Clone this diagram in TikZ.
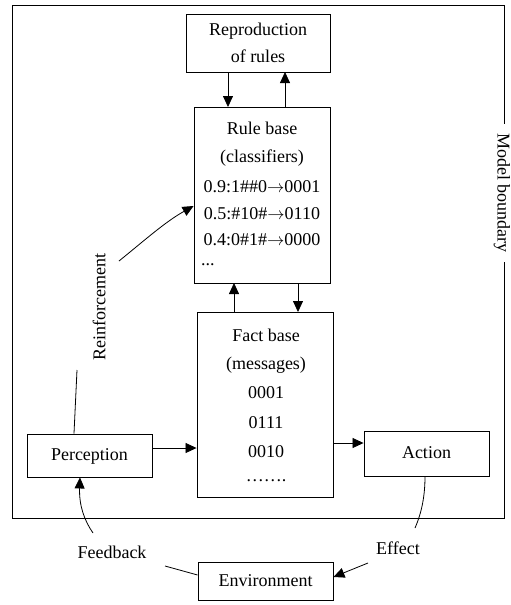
\documentclass[tikz,border=0pt]{standalone}
\usepackage{fontspec}
\setmainfont{Liberation Serif}
\usetikzlibrary{arrows.meta}
\begin{document}
\begin{tikzpicture}[x=1pt,y=-1pt,
  txt/.style={inner sep=0pt,font=\fontsize{18}{21}\selectfont},
  conn/.style={line width=0.8pt},
  arr/.style={line width=0.8pt,-{Triangle[length=11pt,width=10pt]}}]
\useasboundingbox (0,0) rectangle (511,605);
% model boundary
\node[draw,line width=0.9pt,minimum width=492pt,minimum height=513pt,inner sep=0pt] (boundary) at (258,261.5) {};
\node[txt,fill=white,rotate=-90,inner xsep=9pt,inner ysep=1pt] (mb) at (502,193) {Model boundary};
% boxes
\node[draw,line width=0.9pt,minimum width=144pt,minimum height=58pt,inner sep=0pt] (repro) at (258,43) {};
\node[draw,line width=0.9pt,minimum width=136pt,minimum height=176pt,inner sep=0pt] (rule) at (262,195) {};
\node[draw,line width=0.9pt,minimum width=136pt,minimum height=185pt,inner sep=0pt] (fact) at (265,404.5) {};
\node[draw,line width=0.9pt,minimum width=125pt,minimum height=43pt,inner sep=0pt] (perc) at (89.5,455.5) {};
\node[draw,line width=0.9pt,minimum width=125pt,minimum height=45pt,inner sep=0pt] (action) at (426.5,453.5) {};
\node[draw,line width=0.9pt,minimum width=135pt,minimum height=38pt,inner sep=0pt] (env) at (265.5,581) {};
% texts
\node[txt] (t1) at (258,31) {Reproduction};
\node[txt] (t2) at (258,56) {of rules};
\node[txt] (r1) at (262,128) {Rule base};
\node[txt] (r2) at (262,158) {(classifiers)};
\node[txt] (r3) at (262,187) {0.9:1\#\#0$\rightarrow$0001};
\node[txt] (r4) at (262,214) {0.5:\#10\#$\rightarrow$0110};
\node[txt] (r5) at (262,240) {0.4:0\#1\#$\rightarrow$0000};
\node[txt,anchor=west] (r6) at (201,265) {...};
\node[txt] (f1) at (266,335) {Fact base};
\node[txt] (f2) at (266,365) {(messages)};
\node[txt] (f3) at (266,393) {0001};
\node[txt] (f4) at (266,423) {0111};
\node[txt] (f5) at (266,452) {0010};
\node[txt] (f6) at (266,481) {…….};
\node[txt] (tp) at (89.5,456) {Perception};
\node[txt] (ta) at (426.5,453) {Action};
\node[txt] (te) at (265.5,581) {Environment};
\node[txt] (fb) at (112,552) {Feedback};
\node[txt] (ef) at (398,548) {Effect};
\node[txt,rotate=90] (re) at (99,307) {Reinforcement};
% coordinates
\coordinate (reA) at (77,370);
\coordinate (reB) at (119,261);
\coordinate (fbA) at (93,533);
\coordinate (fbB) at (165,566);
\coordinate (efA) at (415,528);
\coordinate (efB) at (368,563);
% connectors
\draw[arr] (228,72) -- (228,107);
\draw[arr] (285,107) -- (285,72);
\draw[arr] (234,312) -- (234,283);
\draw[arr] (298,283) -- (298,312);
\draw[arr] (perc.east |- 0,448) -- (fact.west |- 0,448);
\draw[arr] (fact.east |- 0,443) -- (action.west |- 0,443);
\draw[conn] (perc.north -| 74,0) -- (reA);
\draw[arr] (reB) .. controls (145,240) and (165,222) .. (rule.west |- 0,206);
\draw[arr] (fbA) .. controls (84,520) and (79,505) .. (perc.south -| 80,0);
\draw[conn] (env.west |- 0,575) -- (fbB);
\draw[conn] (action.south -| 425,0) .. controls (425,495) and (422,512) .. (efA);
\draw[arr] (efB) -- (env.east |- 0,577);
\end{tikzpicture}
\end{document}
